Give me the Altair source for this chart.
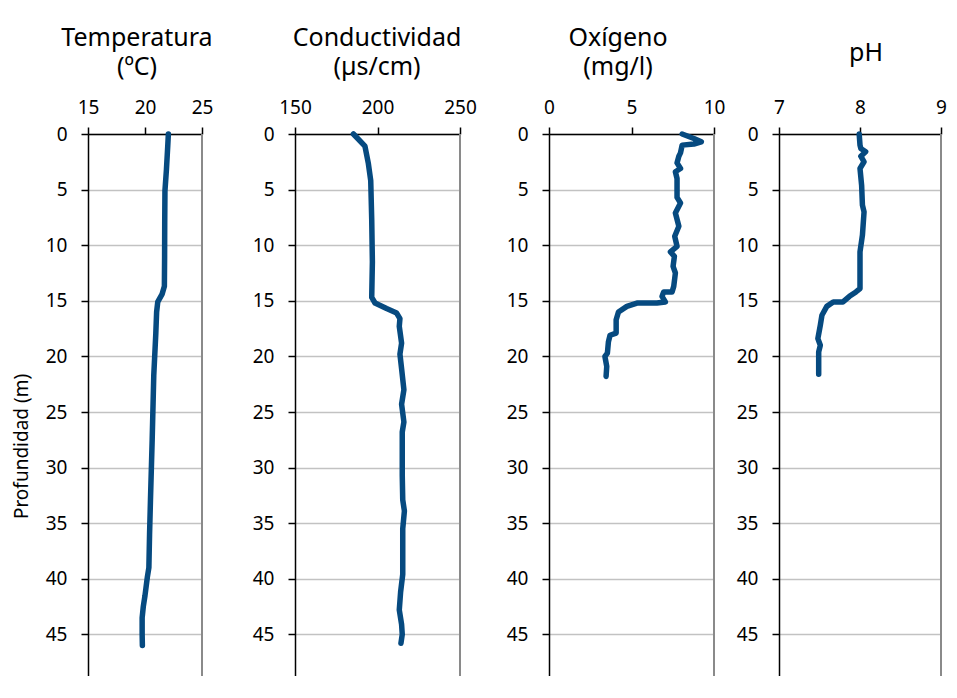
import altair as alt
import pandas as pd

# ---------------- data ----------------
temp_depth = [0, 1, 3.2, 5.1, 8, 11, 13.7, 14.4, 15.1, 16, 17.9, 21.7, 27.5, 32.9, 36, 39.0, 39.9, 41.5, 42.5, 43.5, 45, 46]
temp_vals = [22.05, 22.0, 21.88, 21.75, 21.73, 21.72, 21.7, 21.5, 21.12, 21.02, 20.95, 20.77, 20.63, 20.48, 20.4, 20.34, 20.2, 20.0, 19.85, 19.75, 19.75, 19.77]

cond_depth = [0, 1.1, 2.6, 4.2, 7.7, 11.5, 14.7, 15.2, 15.7, 16.1, 16.6, 17.3, 18.8, 19.8, 21.1, 23.0, 24.3, 25.9, 26.8, 30.7, 32.9, 33.9, 35.5, 39.6, 41.2, 42.8, 44.1, 45.0, 45.8]
cond_vals = [185.4, 192.4, 194.4, 195.9, 196.5, 196.9, 196.5, 198.5, 205.5, 211.6, 213.6, 213.2, 214.6, 213.6, 214.6, 216.0, 214.6, 216.0, 215.0, 215.0, 215.3, 216.3, 215.3, 215.3, 214.0, 213.2, 214.6, 215.0, 214.2]

oxy_depth = [0, 0.4, 0.7, 0.9, 1.0, 1.7, 2.0, 2.6, 3.1, 3.4, 4.0, 5.7, 6.2, 7.1, 8.3, 9.2, 10.1, 10.6, 11.0, 11.9, 12.5, 13.7, 14.2, 14.2, 14.6, 15.1, 15.2, 15.2, 15.5, 16.0, 16.7, 17.9, 18.1, 18.7, 19.7, 20.0, 20.9, 21.8]
oxy_vals = [8.07, 8.78, 9.23, 8.78, 8.07, 7.97, 7.87, 7.76, 7.97, 7.66, 7.76, 7.76, 7.97, 7.66, 7.87, 7.62, 7.76, 7.36, 7.60, 7.52, 7.66, 7.56, 7.46, 6.95, 6.85, 7.05, 6.54, 5.33, 4.72, 4.21, 4.07, 4.07, 3.70, 3.60, 3.54, 3.39, 3.50, 3.46]

ph_depth = [0, 1.0, 1.3, 1.6, 2.0, 2.5, 3.1, 4.6, 6.4, 7.0, 9.1, 10.6, 13.9, 14.2, 14.6, 15.1, 15.1, 15.5, 16.3, 17.2, 18.4, 19.0, 19.6, 21.6]
ph_vals = [7.99, 8.00, 8.01, 8.07, 8.01, 8.05, 8.00, 8.02, 8.03, 8.05, 8.03, 8.00, 8.00, 7.95, 7.87, 7.79, 7.67, 7.59, 7.53, 7.51, 7.48, 7.51, 7.49, 7.49]

titles = ["Temperatura\n(ºC)", "Conductividad\n(µs/cm)", "Oxígeno\n(mg/l)", "pH"]
x_domains = [[15, 25], [150, 250], [0, 10], [7, 9]]
x_ticks = [[15, 20, 25], [150, 200, 250], [0, 5, 10], [7, 8, 9]]
y_ticks = [0, 5, 10, 15, 20, 25, 30, 35, 40, 45, 50]
y_title = "Profundidad (m)"

FONT = "Noto Sans"
LINE = "#064a80"
H = 556


def panel(depths, vals, domain, ticks, title, plot_w, lead, title_x, title_y, first=False):
    df = pd.DataFrame({"depth": depths, "val": vals, "ord": list(range(len(depths)))})
    xs = alt.Scale(domain=domain, range=[lead, lead + plot_w], nice=False, zero=False)
    ys = alt.Scale(domain=[0, 50], reverse=True, nice=False, zero=False)
    xaxis = alt.Axis(orient="top", values=ticks, title=None, grid=False, format=".0f",
                     domainColor="black", domainWidth=1.5, tickColor="black",
                     tickWidth=1.5, tickSize=7, labelFontSize=19, labelFont=FONT,
                     labelColor="black", labelPadding=10, labelFlush=False,
                     labelOverlap=False)
    yargs = dict(values=y_ticks, grid=True, gridColor="#c2c2c2", gridWidth=1.5,
                 domainColor="black", domainWidth=1.5, tickColor="black",
                 tickWidth=1.5, tickSize=7, labelFontSize=19, labelFont=FONT,
                 labelColor="black", labelPadding=14, offset=-lead, format=".0f",
                 labelOverlap=False)
    if first:
        yargs.update(title=y_title, titleFont=FONT, titleFontSize=19,
                     titleFontWeight="normal", titleColor="black",
                     titleX=-67, titleY=312, titleBaseline="middle", titleAngle=-90)
    else:
        yargs.update(title=None)
    line = alt.Chart(df).mark_line(color=LINE, strokeWidth=5.5, strokeCap="round",
                                   strokeJoin="round").encode(
        x=alt.X("val:Q", scale=xs, axis=xaxis),
        y=alt.Y("depth:Q", scale=ys, axis=alt.Axis(**yargs)),
        order="ord:Q",
    )
    one = pd.DataFrame({"k": [0]})
    border = alt.Chart(one).mark_rule(color="#8a8a8a", strokeWidth=2).encode(
        x=alt.datum(domain[1]), y=alt.datum(0), y2=alt.datum(50)
    )
    ttl = alt.Chart(one).mark_text(font=FONT, fontSize=25, color="black",
                                   lineBreak="\n", lineHeight=29,
                                   baseline="middle", align="center").encode(
        x=alt.value(title_x),
        y=alt.value(title_y),
        text=alt.value(title),
    )
    return alt.layer(line, border, ttl).properties(width=lead + plot_w, height=H)


p1 = panel(temp_depth, temp_vals, x_domains[0], x_ticks[0], titles[0], 114, 0, 49, -96, first=True)
p2 = panel(cond_depth, cond_vals, x_domains[1], x_ticks[1], titles[1], 165, 93, 175, -96)
p3 = panel(oxy_depth, oxy_vals, x_domains[2], x_ticks[2], titles[2], 165, 89, 158, -96)
p4 = panel(ph_depth, ph_vals, x_domains[3], x_ticks[3], titles[3], 162, 65, 152, -81)

chart = alt.hconcat(p1, p2, p3, p4, spacing=0, bounds="flush").properties(
    padding={"left": 4, "top": 18, "right": 0, "bottom": -24}
).configure_view(stroke=None)

chart.save("out.html", embed_options={"renderer": "svg", "actions": False})
